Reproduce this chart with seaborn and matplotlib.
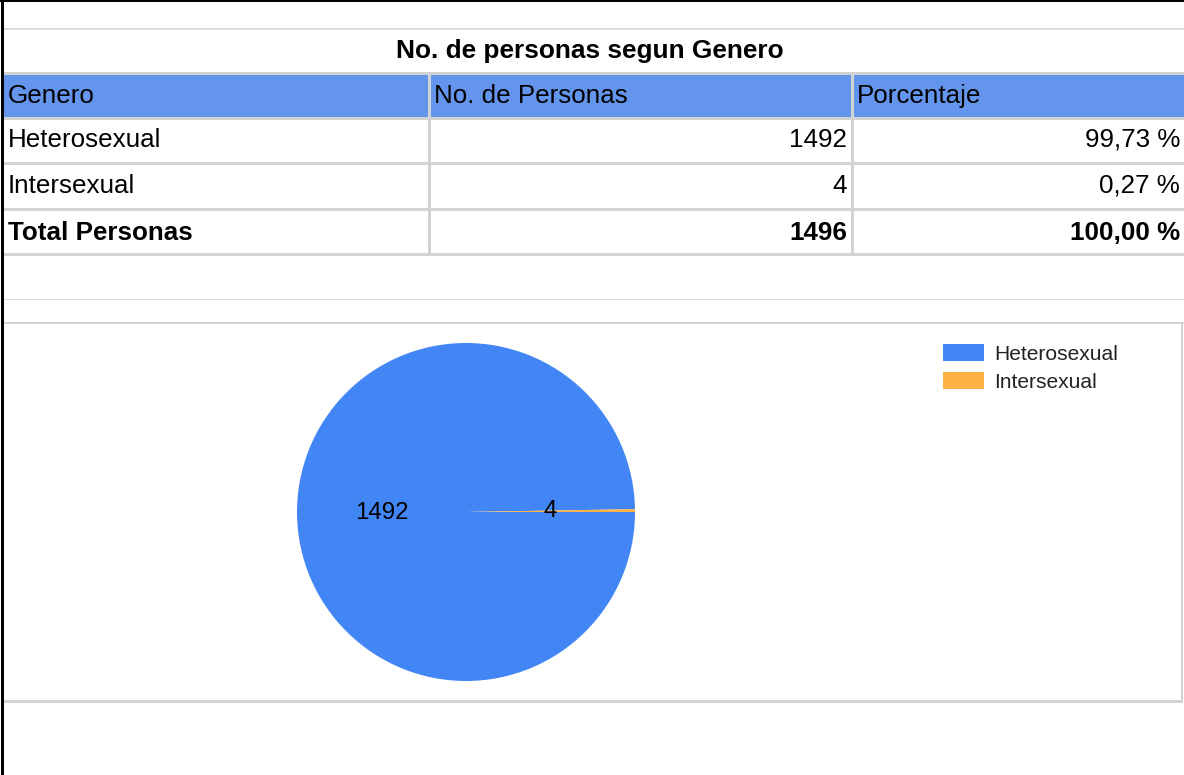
import matplotlib
matplotlib.use("Agg")
import matplotlib.pyplot as plt
from matplotlib.patches import Rectangle
import seaborn as sns

# data
generos = ["Heterosexual", "Intersexual"]
personas = [1492, 4]
colores = ["#4285F4", "#FDB244"]

titulo = "No. de personas segun Genero"
columnas = ["Genero", "No. de Personas", "Porcentaje"]
etiqueta_total = "Total Personas"

W, H = 1184, 775
PT = 72 / 100  # pixels -> points at dpi 100
GRIS = "#d3d3d3"

sns.set_theme(style="white")
plt.rcParams["font.family"] = ["Liberation Sans", "DejaVu Sans"]

total = sum(personas)
porcentajes = [p / total * 100 for p in personas]


def fmt_pct(v):
    return f"{v:.2f}".replace(".", ",") + " %"


fig = plt.figure(figsize=(W / 100, H / 100), dpi=100)
fig.patch.set_facecolor("white")

# background axes in pixel units (y down) for the table layout
bg = fig.add_axes([0, 0, 1, 1])
bg.set_xlim(0, W)
bg.set_ylim(H, 0)
bg.axis("off")


def rect(x0, y0, x1, y1, color):
    bg.add_patch(Rectangle((x0, y0), x1 - x0, y1 - y0, facecolor=color, edgecolor="none", lw=0))


# outer frame and page lines
rect(0, 0, W, 2, "black")
rect(1, 0, 4, H, "black")
rect(4, 28, W, 29.5, "#dcdcdc")
rect(4, 298.5, W, 300, "#dcdcdc")

# table
col_sep = [429.5, 852.5]
row_sep = [73.5, 118, 163.5, 209, 254.5]
baselines = [103, 147, 193, 240]
text_fs = 26 * PT

rect(4, row_sep[0], W, row_sep[1], "#6495ED")
for y in row_sep:
    rect(4, y - 1.5, W, y + 1.5, GRIS)
for x in col_sep:
    rect(x - 1.5, row_sep[0] - 1.5, x + 1.5, row_sep[-1] + 1.5, GRIS)

bg.text(590, 58, titulo, ha="center", va="baseline", fontsize=26.2 * PT, fontweight="bold", color="black")

for x, c in zip([8, 434, 857], columnas):
    bg.text(x, baselines[0], c, ha="left", va="baseline", fontsize=text_fs, color="black")

filas = list(zip(generos, [str(p) for p in personas], [fmt_pct(v) for v in porcentajes]))
filas.append((etiqueta_total, str(total), fmt_pct(sum(porcentajes))))
for i, (g, n, pc) in enumerate(filas):
    peso = "bold" if g == etiqueta_total else "normal"
    yb = baselines[i + 1]
    bg.text(8, yb, g, ha="left", va="baseline", fontsize=text_fs, fontweight=peso, color="black")
    bg.text(847, yb, n, ha="right", va="baseline", fontsize=text_fs, fontweight=peso, color="black")
    bg.text(1180, yb, pc, ha="right", va="baseline", fontsize=text_fs, fontweight=peso, color="black")

# chart box (top, right, bottom)
rect(4, 321.5, W, 324, GRIS)
rect(1180.5, 322, 1183, 703, GRIS)
rect(4, 700, 1183, 702.5, GRIS)

# pie chart
cx, cy, r = 466, 512, 169
pie_ax = fig.add_axes([(cx - r) / W, 1 - (cy + r) / H, 2 * r / W, 2 * r / H])
wedges, _, autotexts = pie_ax.pie(
    personas,
    colors=colores,
    startangle=0,
    counterclock=False,
    autopct=lambda p: f"{round(p * total / 100)}",
    pctdistance=0.5,
    wedgeprops=dict(linewidth=0),
    textprops=dict(fontsize=24 * PT, color="black"),
)
pie_ax.set_xlim(-1, 1)
pie_ax.set_ylim(-1, 1)
pie_ax.set_aspect("equal")
pie_ax.axis("off")

fig.legend(
    wedges,
    generos,
    loc="upper left",
    bbox_to_anchor=(943 / W, 1 - 344 / H),
    frameon=False,
    fontsize=21 * PT,
    labelcolor="#222222",
    handlelength=1.95,
    handleheight=0.85,
    handletextpad=0.5,
    labelspacing=0.4,
    borderpad=0,
    borderaxespad=0,
)

fig.savefig("out.png", dpi=100, facecolor="white")
